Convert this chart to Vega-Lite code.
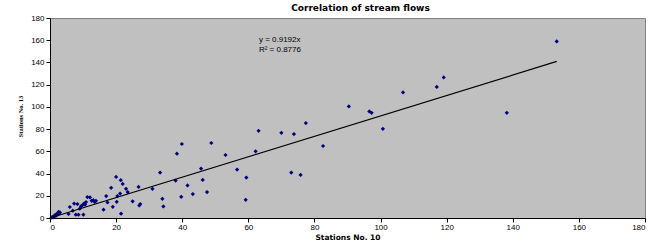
{
  "$schema": "https://vega.github.io/schema/vega-lite/v6.json",
  "width": 595,
  "height": 200,
  "autosize": {"type": "none"},
  "padding": {"left": 50, "top": 18, "right": 11, "bottom": 26},
  "background": "#ffffff",
  "title": {"text": "Correlation of stream flows", "font": "DejaVu Sans", "fontSize": 9, "fontWeight": "bold", "color": "#000000", "anchor": "middle", "dx": 13, "offset": 1},
  "config": {
    "view": {"fill": "#C0C0C0", "stroke": "#808080", "strokeWidth": 1},
    "axis": {"grid": false, "domainColor": "#000000", "tickColor": "#000000", "tickSize": 4, "labelFont": "Liberation Sans", "labelFontSize": 8, "labelColor": "#000000", "titleColor": "#000000", "labelOverlap": false}
  },
  "encoding": {
    "x": {"field": "x", "type": "quantitative", "scale": {"domain": [0, 180], "nice": false}, "axis": {"values": [0,20,40,60,80,100,120,140,160,180], "title": "Stations No. 10", "titleFont": "DejaVu Sans", "titleFontSize": 7.5, "titleFontWeight": "bold", "titlePadding": 2, "labelPadding": 1, "labelOverlap": false}},
    "y": {"field": "y", "type": "quantitative", "scale": {"domain": [0, 180], "nice": false}, "axis": {"values": [0,20,40,60,80,100,120,140,160,180], "labelOverlap": false, "labelSeparation": 0, "title": "Stations No. 13", "titleFont": "Liberation Sans Narrow", "titleFontSize": 6.5, "titleFontWeight": "bold", "titleX": -30, "titleY": 98, "titleAngle": -90, "titleAlign": "center", "titleBaseline": "middle", "labelPadding": 2}}
  },
  "layer": [
    {
      "data": {"values": [
        {"x":0.5,"y":0.4},{"x":0.8,"y":1.0},{"x":1.0,"y":0.6},{"x":1.3,"y":1.8},{"x":1.5,"y":2.5},{"x":1.8,"y":2.0},{"x":2.0,"y":3.5},{"x":2.2,"y":3.0},{"x":2.4,"y":4.5},{"x":2.6,"y":5.5},{"x":2.8,"y":4.2},{"x":3.0,"y":5.0},
        {"x":5.6,"y":3.6},{"x":6,"y":9.9},{"x":6.9,"y":6.6},{"x":7.3,"y":13},{"x":7.8,"y":3},{"x":8.3,"y":12.5},{"x":8.6,"y":3},{"x":9,"y":8.4},{"x":9.4,"y":10.5},{"x":9.8,"y":11.5},{"x":10.1,"y":3},{"x":10.3,"y":13},{"x":10.6,"y":12},{"x":10.9,"y":14.3},{"x":11.3,"y":18.8},{"x":12.1,"y":18.5},{"x":12.6,"y":15.5},{"x":13.1,"y":16},{"x":13.5,"y":14.5},{"x":13.9,"y":15.5},{"x":16.2,"y":7.5},{"x":17,"y":19.7},{"x":17.4,"y":14},{"x":18.5,"y":27.2},{"x":19,"y":10.1},{"x":20,"y":37},{"x":20.2,"y":14.6},{"x":20.4,"y":19.7},{"x":21.2,"y":22},{"x":21.4,"y":34},{"x":21.5,"y":3.9},{"x":22,"y":30.7},{"x":23,"y":26.3},{"x":23.5,"y":23.3},{"x":25,"y":15},{"x":26.8,"y":28},{"x":27,"y":11.3},{"x":27.3,"y":12.5},{"x":31,"y":26.3},{"x":33.3,"y":40.9},{"x":34,"y":17.3},{"x":34.3,"y":10.4},{"x":38,"y":33.7},{"x":38.4,"y":57.9},{"x":39.7,"y":19.1},{"x":39.9,"y":66.6},{"x":41.6,"y":29.3},{"x":43.2,"y":21.5},{"x":45.7,"y":44.5},{"x":46.2,"y":34.3},{"x":47.5,"y":23.3},{"x":48.8,"y":67.5},{"x":53.1,"y":56.7},{"x":56.6,"y":43.6},{"x":59.4,"y":36.4},{"x":59.2,"y":16.4},{"x":62.2,"y":60},{"x":63.1,"y":78.5},{"x":70,"y":76.7},{"x":73,"y":40.9},{"x":73.8,"y":75.5},{"x":75.8,"y":38.8},{"x":77.4,"y":85.4},{"x":82.6,"y":64.8},{"x":90.4,"y":100.4},{"x":96.6,"y":95.9},{"x":97.3,"y":94.7},{"x":100.7,"y":80.3},{"x":106.8,"y":113},{"x":117,"y":118},{"x":119.1,"y":126.5},{"x":138.2,"y":94.7},{"x":153.3,"y":158.9}
      ]},
      "mark": {"type": "point", "shape": "diamond", "filled": true, "color": "#000080", "size": 18, "opacity": 1}
    },
    {
      "data": {"values": [{"x": 0, "y": 0}, {"x": 153.3, "y": 140.9}]},
      "mark": {"type": "line", "color": "#000000", "strokeWidth": 1.2}
    },
    {
      "data": {"values": [{"x": 63.2, "y": 159.8, "label": "y = 0.9192x"}, {"x": 63.2, "y": 151.5, "label": "R² = 0.8776"}]},
      "mark": {"type": "text", "align": "left", "baseline": "middle", "font": "Liberation Sans", "fontSize": 8, "color": "#000000"},
      "encoding": {
        "text": {"field": "label"}
      }
    }
  ]
}
